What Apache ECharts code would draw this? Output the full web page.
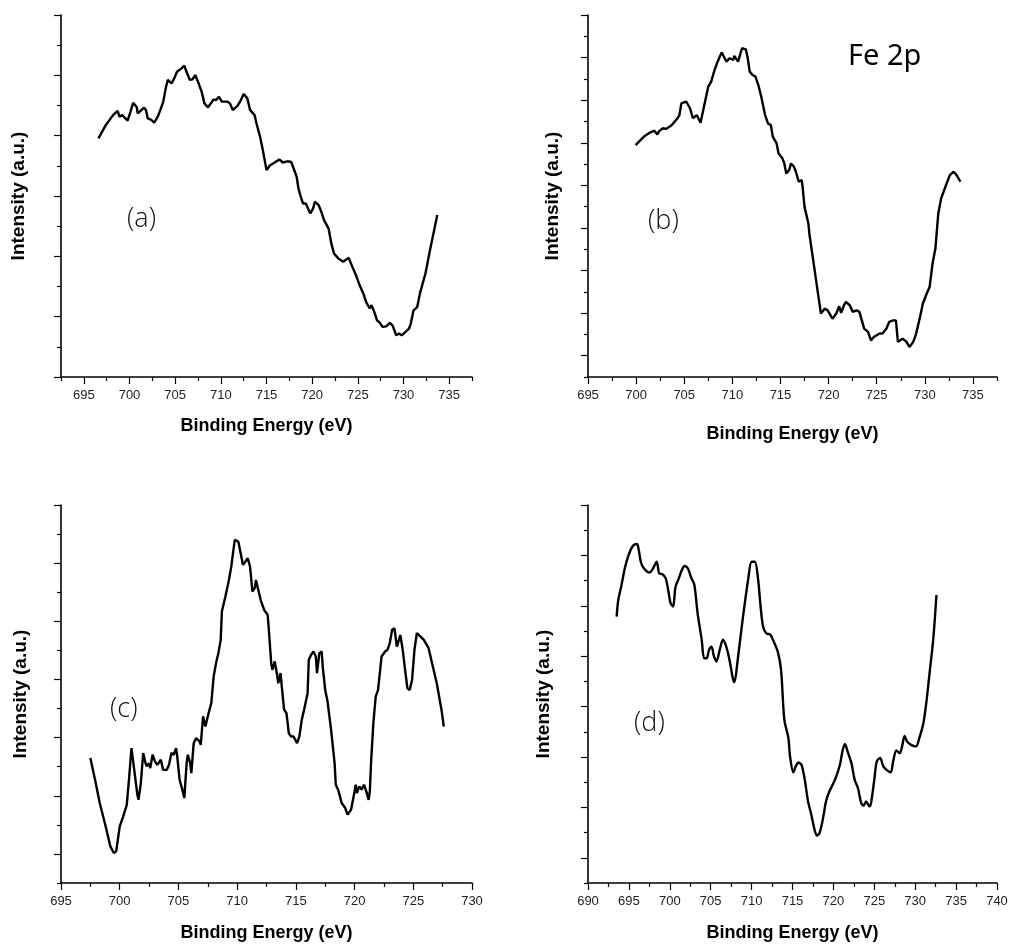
<!DOCTYPE html>
<html>
<head>
<meta charset="utf-8">
<script src="https://cdn.jsdelivr.net/npm/echarts@6/dist/echarts.min.js"></script>
<style>html,body{margin:0;padding:0;background:#fff}#c{width:1011px;height:948px}</style>
</head>
<body>
<div id="c"></div>
<script>
// ---- Panel (a) ----
const energyA = [696.6,697.4,698.2,698.7,698.9,699.2,699.8,700.1,700.4,700.8,700.9,701.3,701.6,701.8,702.0,702.4,702.7,703.1,703.4,703.7,704.0,704.2,704.6,704.9,705.2,705.7,706.0,706.2,706.6,706.9,707.2,707.5,707.7,707.9,708.2,708.6,708.9,709.2,709.5,709.8,710.1,710.3,710.7,711.0,711.3,711.8,712.2,712.5,712.9,713.2,713.7,713.9,714.3,714.6,714.8,715.0,715.4,715.9,716.4,716.8,717.3,717.7,717.9,718.3,718.5,718.7,719.0,719.3,719.8,720.1,720.3,720.7,721.0,721.3,721.8,722.1,722.4,722.9,723.4,724.0,724.4,724.8,725.2,725.6,725.9,726.3,726.5,726.8,727.1,727.4,727.7,728.1,728.5,728.8,729.0,729.2,729.5,729.8,730.2,730.6,730.8,731.1,731.5,731.8,732.4,732.9,733.7];
const intensityA = [7.91,8.35,8.68,8.82,8.63,8.68,8.50,8.79,9.09,8.94,8.74,8.85,8.93,8.85,8.57,8.52,8.43,8.63,8.87,9.13,9.62,9.85,9.73,9.90,10.12,10.23,10.32,10.15,9.85,9.87,10.01,9.79,9.62,9.46,9.07,8.94,9.07,9.20,9.18,9.29,9.13,9.18,9.13,9.07,8.85,8.98,9.18,9.38,9.24,8.85,8.68,8.41,7.96,7.52,7.19,6.86,7.02,7.11,7.21,7.11,7.15,7.13,6.97,6.64,6.25,6.03,5.75,5.75,5.42,5.59,5.81,5.70,5.48,5.20,4.92,4.42,4.09,3.92,3.82,3.95,3.65,3.37,3.04,2.77,2.49,2.27,2.38,2.16,1.88,1.80,1.66,1.68,1.79,1.71,1.55,1.38,1.44,1.38,1.49,1.60,1.77,2.21,2.32,2.77,3.43,4.20,5.37];

// ---- Panel (b) ----
const energyB = [699.95,700.4,700.9,701.4,701.9,702.2,702.4,702.8,703.1,703.5,703.8,704.0,704.3,704.5,704.7,704.9,705.2,705.6,705.9,706.3,706.7,706.9,707.2,707.5,707.8,708.1,708.4,708.7,708.9,709.2,709.4,709.7,710.1,710.2,710.6,710.8,711.0,711.4,711.6,711.8,712.1,712.4,712.7,713.0,713.4,713.7,714.0,714.2,714.6,714.8,715.2,715.4,715.6,715.9,716.1,716.4,716.6,716.9,717.2,717.3,717.5,717.9,718.0,718.3,718.5,718.8,719.0,719.2,719.6,719.9,720.4,720.8,721.1,721.3,721.6,721.8,722.2,722.5,722.9,723.2,723.4,723.7,724.1,724.4,724.7,724.9,725.3,725.6,726.0,726.3,726.7,727.0,727.2,727.4,727.7,728.1,728.4,728.8,729.1,729.5,729.8,730.2,730.5,730.8,731.1,731.4,731.7,732.2,732.6,733.0,733.3,733.7];
const intensityB = [10.89,11.10,11.32,11.47,11.57,11.39,11.55,11.68,11.65,11.76,11.88,11.99,12.15,12.30,12.85,12.93,12.93,12.62,12.15,12.30,11.94,12.38,13.01,13.64,13.87,14.34,14.73,15.05,15.24,14.97,14.81,14.97,14.89,15.08,14.81,15.13,15.44,15.39,14.97,14.34,14.18,14.11,13.71,13.17,12.30,11.91,11.83,11.29,10.97,10.50,10.27,10.03,9.56,9.72,10.03,9.87,9.64,9.17,9.25,8.93,7.99,7.21,6.74,5.80,5.17,4.23,3.61,2.98,3.21,3.13,2.74,2.98,3.32,3.01,3.37,3.53,3.37,3.06,3.13,3.06,2.74,2.27,2.12,1.72,1.88,1.96,2.04,2.04,2.27,2.59,2.66,2.66,1.65,1.57,1.80,1.65,1.41,1.65,2.04,2.82,3.45,3.92,4.23,5.33,6.03,7.68,8.39,9.01,9.48,9.64,9.48,9.17];

// ---- Panel (c) ----
const energyC = [697.5,697.9,698.3,698.8,699.2,699.5,699.7,700.0,700.3,700.6,700.8,701.0,701.2,701.5,701.6,701.8,702.0,702.2,702.3,702.5,702.6,702.8,703.0,703.2,703.5,703.7,704.0,704.2,704.4,704.6,704.8,704.9,705.1,705.3,705.5,705.7,705.8,706.0,706.1,706.3,706.5,706.8,706.9,707.1,707.3,707.5,707.8,708.0,708.2,708.4,708.6,708.7,709.0,709.3,709.5,709.7,709.8,710.1,710.3,710.5,710.7,710.9,711.1,711.3,711.5,711.6,711.8,712.0,712.3,712.6,712.7,712.9,713.0,713.2,713.4,713.5,713.7,713.8,714.0,714.2,714.4,714.6,714.8,715.1,715.3,715.5,715.7,716.0,716.1,716.3,716.5,716.7,716.8,717.0,717.2,717.3,717.5,717.7,718.0,718.3,718.4,718.6,718.9,719.2,719.4,719.7,720.0,720.1,720.2,720.4,720.6,720.8,721.0,721.2,721.3,721.4,721.6,721.8,722.0,722.3,722.6,722.8,723.0,723.2,723.4,723.6,723.9,724.1,724.3,724.5,724.7,724.9,725.1,725.3,725.6,725.9,726.3,726.6,727.0,727.4,727.6];
const intensityC = [4.30,3.55,2.75,1.95,1.26,1.03,1.09,1.95,2.29,2.69,3.61,4.64,4.01,3.04,2.86,3.44,4.47,4.12,4.01,4.12,3.95,4.41,4.18,4.06,4.24,3.89,3.89,4.07,4.47,4.41,4.64,4.35,3.55,3.26,2.92,4.12,4.41,4.12,3.78,4.81,4.98,4.87,4.75,5.73,5.38,5.73,6.19,7.10,7.56,7.90,8.36,9.34,9.85,10.42,10.88,11.51,11.80,11.74,11.34,10.94,11.05,11.17,10.88,10.02,10.14,10.42,10.08,9.74,9.39,9.22,8.71,7.56,7.33,7.62,7.16,6.87,7.22,6.76,5.96,5.84,5.15,5.04,5.04,4.81,5.04,5.61,5.96,6.53,7.67,7.85,7.96,7.79,7.22,7.90,7.96,7.39,6.64,6.24,5.27,4.12,3.38,3.21,2.75,2.58,2.35,2.52,3.15,3.38,3.09,3.32,3.21,3.38,3.15,2.86,3.15,4.12,5.50,6.41,6.64,7.79,7.96,8.02,8.25,8.71,8.76,8.13,8.53,8.02,7.33,6.70,6.64,7.00,8.02,8.59,8.48,8.36,8.08,7.56,6.87,5.96,5.38];

// ---- Panel (d) ----
const energyD = [693.5,693.7,694.1,694.5,694.9,695.3,695.7,696.0,696.2,696.5,696.9,697.5,697.9,698.4,698.7,699.1,699.5,699.8,700.1,700.4,700.7,701.1,701.4,701.8,702.2,702.6,703.0,703.4,703.9,704.2,704.5,704.8,705.1,705.4,705.7,706.1,706.5,706.9,707.3,707.7,707.9,708.3,708.9,709.6,710.0,710.4,710.8,711.1,711.4,711.8,712.3,712.7,713.2,713.6,714.0,714.5,714.7,715.1,715.4,715.7,716.1,716.5,716.9,717.3,717.7,718.0,718.3,718.7,719.1,719.5,720.2,720.8,721.1,721.4,721.8,722.2,722.6,723.0,723.4,723.7,724.0,724.4,724.6,725.0,725.3,725.7,726.1,726.5,727.0,727.3,727.7,728.1,728.4,728.7,729.0,729.5,730.1,730.5,731.0,731.4,731.8,732.2,732.6];
const intensityD = [10.57,11.23,11.83,12.49,12.95,13.28,13.44,13.45,13.22,12.69,12.46,12.32,12.45,12.75,12.29,12.25,12.09,11.63,11.10,10.97,11.76,12.09,12.36,12.58,12.49,12.13,11.83,10.70,9.65,8.92,8.92,9.25,9.38,8.99,8.79,9.25,9.65,9.38,8.85,8.13,7.97,8.85,10.44,12.09,12.75,12.75,12.03,10.97,10.18,9.91,9.85,9.58,9.18,8.46,6.48,5.75,5.02,4.39,4.63,4.78,4.69,4.10,3.24,2.71,2.11,1.88,1.98,2.51,3.24,3.63,4.10,4.69,5.22,5.52,5.15,4.76,4.10,3.77,3.17,3.07,3.24,3.04,3.17,4.10,4.82,4.96,4.63,4.49,4.39,4.82,5.26,5.15,5.42,5.84,5.62,5.48,5.42,5.75,6.34,7.27,8.46,9.65,11.43];

// ---- Tick labels ----
const ticksAB = [695,700,705,710,715,720,725,730,735];
const ticksC = [695,700,705,710,715,720,725,730];
const ticksD = [690,695,700,705,710,715,720,725,730,735,740];

const panelLabels = ['(a)','(b)','(c)','(d)'];
const xTitle = 'Binding Energy (eV)';
const yTitle = 'Intensity (a.u.)';
const elementLabel = 'Fe 2p';

function zip(xs, ys){ return xs.map((x,i)=>[x, ys[i]]); }
function steps(a, b, s){ const out=[]; for(let v=a; v<=b+1e-9; v+=s) out.push(+v.toFixed(2)); return out; }
function xMinor(p){ return steps(p.xmin, p.xmax, 2.5).filter(v=>!p.labels.includes(v)); }
function yMajor(p){ return steps(0, p.ymax, 1).filter(v=>(p.ymax - v) % 2 === 0); }
function yMinor(p){ return steps(0, p.ymax, 1).filter(v=>(p.ymax - v) % 2 !== 0); }

const panels = [
  {grid:{left:61, top:15, width:411, height:362}, xmin:692.5, xmax:737.5, labels:ticksAB, ymax:12, nameGapX:40, nameGapY:33, data:zip(energyA,intensityA), smooth:false},
  {grid:{left:588, top:15, width:409, height:362}, xmin:695, xmax:737.5, labels:ticksAB, ymax:17, nameGapX:48, nameGapY:26, data:zip(energyB,intensityB), smooth:false},
  {grid:{left:61, top:505, width:411, height:378}, xmin:695, xmax:730, labels:ticksC, ymax:13, nameGapX:41, nameGapY:31, data:zip(energyC,intensityC), smooth:false},
  {grid:{left:588, top:505, width:409, height:378}, xmin:690, xmax:740, labels:ticksD, ymax:15, nameGapX:41, nameGapY:35, data:zip(energyD,intensityD), smooth:0.3}
];

const axisLine = {show:true, lineStyle:{color:'#000', width:1.6}};
const xTitleFont = {fontFamily:'Liberation Sans', fontWeight:'bold', fontSize:18, color:'#000'};
const yTitleFont = {fontFamily:'Liberation Sans', fontWeight:'bold', fontSize:19, color:'#000'};
const tickFont = {fontFamily:'"Liberation Sans Narrow", "Liberation Sans", sans-serif', fontSize:13, color:'#222'};

const xAxes = [], yAxes = [];
panels.forEach((p,i)=>{
  xAxes.push({
    type:'value', gridIndex:i, min:p.xmin, max:p.xmax,
    axisLine:axisLine,
    axisTick:{show:true, inside:false, length:7, lineStyle:{color:'#000', width:1.2}, customValues:p.labels},
    axisLabel:Object.assign({customValues:p.labels, margin:12}, tickFont),
    splitLine:{show:false},
    name:xTitle, nameLocation:'middle', nameGap:p.nameGapX, nameTextStyle:xTitleFont
  });
  yAxes.push({
    type:'value', gridIndex:i, min:0, max:p.ymax,
    axisLine:axisLine,
    axisTick:{show:true, inside:false, length:7, lineStyle:{color:'#000', width:1.2}, customValues:yMajor(p)},
    axisLabel:{show:false},
    splitLine:{show:false},
    name:yTitle, nameLocation:'middle', nameGap:p.nameGapY, nameRotate:90, nameTextStyle:yTitleFont
  });
});
// secondary axes carrying the short (minor) ticks
panels.forEach((p,i)=>{
  xAxes.push({
    type:'value', gridIndex:i, min:p.xmin, max:p.xmax, position:'bottom',
    axisLine:{show:false},
    axisTick:{show:true, inside:false, length:4, lineStyle:{color:'#000', width:1.2}, customValues:xMinor(p)},
    axisLabel:{show:false}, splitLine:{show:false}
  });
  yAxes.push({
    type:'value', gridIndex:i, min:0, max:p.ymax, position:'left',
    axisLine:{show:false},
    axisTick:{show:true, inside:false, length:4, lineStyle:{color:'#000', width:1.2}, customValues:yMinor(p)},
    axisLabel:{show:false}, splitLine:{show:false}
  });
});

const labelFont = '300 27px "Open Sans", "Noto Sans", sans-serif';

const option = {
  animation:false,
  backgroundColor:'#fff',
  grid: panels.map(p=>Object.assign({containLabel:false}, p.grid)),
  xAxis: xAxes,
  yAxis: yAxes,
  series: panels.map((p,i)=>({
    type:'line', xAxisIndex:i, yAxisIndex:i, data:p.data, smooth:p.smooth,
    showSymbol:false, lineStyle:{color:'#000', width:2.4}, itemStyle:{color:'#000'}
  })),
  graphic: [
    {type:'text', left:127, top:206, style:{text:panelLabels[0], font:labelFont, fill:'#111'}},
    {type:'text', left:648, top:208, style:{text:panelLabels[1], font:labelFont, fill:'#111'}},
    {type:'text', left:110, top:696, style:{text:panelLabels[2], font:labelFont, fill:'#111'}},
    {type:'text', left:634, top:710, style:{text:panelLabels[3], font:labelFont, fill:'#111'}},
    {type:'text', left:848, top:42, style:{text:elementLabel, font:'400 29px "Noto Sans", sans-serif', fill:'#000'}}
  ]
};

const chart = echarts.init(document.getElementById('c'), null, {renderer:'canvas'});
chart.setOption(option);
</script>
</body>
</html>
